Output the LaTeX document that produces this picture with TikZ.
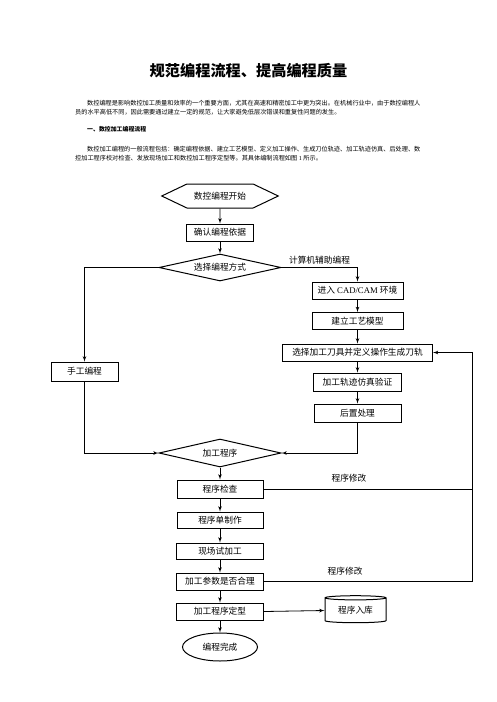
\documentclass[tikz,border=0pt]{standalone}
\usepackage{fontspec}
\setmainfont{Liberation Serif}
\newfontfamily\cjk{Noto Sans CJK SC}
\usetikzlibrary{shapes.geometric, shapes.symbols, arrows}
\tikzset{
  block/.style={
    rectangle,
    draw,
    draw=black,
    line width=1pt,
    minimum height=17pt,
    inner sep=0pt,
    font=\cjk\fontsize{8.7pt}{10pt}\selectfont
  }
}
\tikzset{
  decision/.style={
    diamond,
    draw,
    draw=black,
    line width=1pt,
    aspect=4.5,
    minimum width=122pt,
    minimum height=27pt,
    inner sep=0pt,
    font=\cjk\fontsize{8.7pt}{10pt}\selectfont
  }
}
\tikzset{
  terminal/.style={
    signal,
    signal to=west and east,
    signal pointer angle=51,
    draw,
    draw=black,
    line width=1pt,
    minimum height=24pt,
    inner xsep=7pt,
    inner ysep=0pt,
    font=\cjk\fontsize{8.7pt}{10pt}\selectfont
  }
}
\tikzset{
  para/.style={
    anchor=west,
    inner sep=0pt,
    font=\cjk\fontsize{6.17pt}{8pt}\selectfont
  }
}
\tikzstyle{arrow} = [->, > = latex', line width=0.8pt]
\tikzstyle{line} = [line width=0.8pt]
\def\latin#1{{\rmfamily #1}}

\begin{document}
\begin{tikzpicture}[x=1pt, y=-1pt]
    \useasboundingbox (0,0) rectangle (496,702);
    % page text
    \node[inner sep=0pt, font=\cjk\bfseries\fontsize{15.2pt}{18pt}\selectfont] (title) at (248.5, 71) {规范编程流程、提高编程质量};
    \node[para] (p1a) at (87, 103) {数控编程是影响数控加工质量和效率的一个重要方面，尤其在高速和精密加工中更为突出。在机械行业中，由于数控编程人};
    \node[para] (p1b) at (75, 112) {员的水平高低不同，因此需要通过建立一定的规范，让大家避免低层次错误和重复性问题的发生。};
    \node[para, font=\cjk\bfseries\fontsize{5.9pt}{8pt}\selectfont] (head) at (87, 129) {一、数控加工编程流程};
    \node[para] (p2a) at (87, 149) {数控加工编程的一般流程包括：确定编程依据、建立工艺模型、定义加工操作、生成刀位轨迹、加工轨迹仿真、后处理、数};
    \node[para] (p2b) at (75, 158) {控加工程序校对检查、发放现场加工和数控加工程序定型等。其具体编制流程如图\latin{ 1 }所示。};
    % flow chart
    \node[terminal] (start) at (220, 196) {数控编程开始};
    \node[block, minimum width=67pt] (basis) at (220, 232.5) {确认编程依据};
    \node[decision] (choose) at (220, 267.5) {选择编程方式};
    \node[block, minimum width=91pt] (cad) at (357.5, 290.5) {进入\latin{ CAD/CAM }环境};
    \node[block, minimum width=91pt] (model) at (357.5, 321) {建立工艺模型};
    \node[block, minimum width=150pt] (tool) at (357.5, 352.5) {选择加工刀具并定义操作生成刀轨};
    \node[block, minimum width=67pt, minimum height=19pt] (manual) at (84.5, 371.5) {手工编程};
    \node[block, minimum width=88pt, minimum height=18pt] (sim) at (357.5, 382) {加工轨迹仿真验证};
    \node[block, minimum width=87pt, minimum height=18pt] (post) at (357.5, 413) {后置处理};
    \node[decision, minimum height=28pt] (prog) at (220, 453) {加工程序};
    \node[block, minimum width=86pt, minimum height=18pt] (check) at (220, 489) {程序检查};
    \node[block, minimum width=86pt, minimum height=16pt] (sheet) at (220, 520) {程序单制作};
    \node[block, minimum width=87pt, minimum height=16pt] (trial) at (220, 551) {现场试加工};
    \node[block, minimum width=87pt] (param) at (220, 581.5) {加工参数是否合理};
    \node[block, minimum width=87pt] (final) at (220, 611.5) {加工程序定型};
    \node[cylinder, shape border rotate=90, aspect=0.12, draw, line width=1pt, minimum width=61pt, minimum height=27pt, inner sep=0pt, font=\cjk\fontsize{8.7pt}{10pt}\selectfont] (store) at (355.5, 610.5) {程序入库};
    \node[ellipse, draw, line width=1pt, minimum width=75pt, minimum height=28pt, inner sep=0pt, font=\cjk\fontsize{8.7pt}{10pt}\selectfont] (done) at (220, 647) {编程完成};
    \coordinate (fb) at (472, 581.5);
    \draw[arrow] (start) to (basis);
    \draw[arrow] (basis) to (choose);
    \draw[arrow] (choose.west) -| (manual.north);
    \draw[arrow] (choose.east) -| node [above, pos=0.25, font=\cjk\fontsize{8.7pt}{10pt}\selectfont] {计算机辅助编程} (cad.north);
    \draw[arrow] (cad) to (model);
    \draw[arrow] (model) to (tool);
    \draw[arrow] (tool) to (sim);
    \draw[arrow] (sim) to (post);
    \draw[arrow] (manual.south) |- (prog.west);
    \draw[arrow] (post.south) |- (prog.east);
    \draw[arrow] (prog) to (check);
    \draw[arrow] (check) to (sheet);
    \draw[arrow] (sheet) to (trial);
    \draw[arrow] (trial) to (param);
    \draw[arrow] (param) to (final);
    \draw[arrow] (final) to (done);
    \draw[arrow] (final.east) to (store.west);
    \draw[line] (check.east) -- node [above=3pt, pos=0.41, font=\cjk\fontsize{8.7pt}{10pt}\selectfont] {程序修改} (check.east -| fb);
    \draw[arrow] (param.east) -- node [above=3pt, pos=0.39, font=\cjk\fontsize{8.7pt}{10pt}\selectfont] {程序修改} (fb) |- (tool.east);
\end{tikzpicture}
\end{document}
